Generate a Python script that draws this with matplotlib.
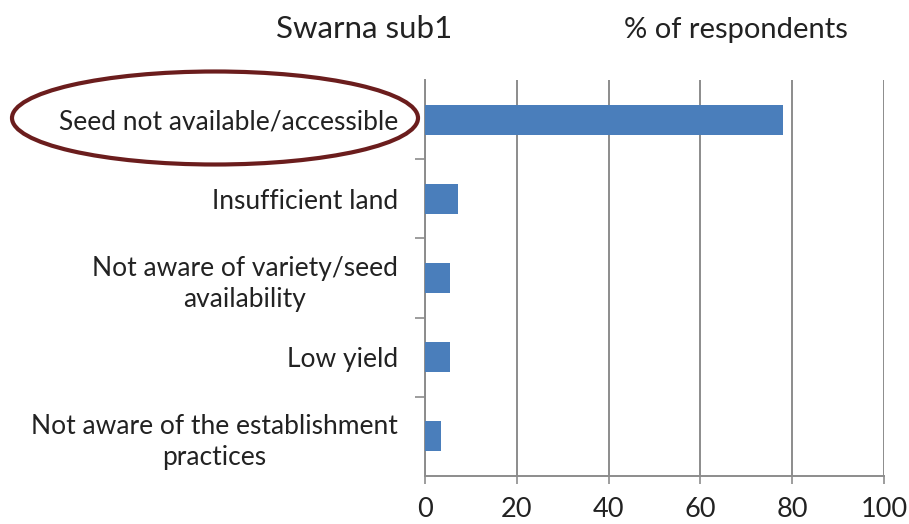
import matplotlib.pyplot as plt
from matplotlib.patches import Ellipse

plt.rcParams['font.family'] = ['Lato', 'DejaVu Sans']

# reasons for not adopting, top to bottom
reasons = ["Seed not available/accessible",
           "Insufficient land",
           "Not aware of variety/seed\navailability",
           "Low yield",
           "Not aware of the establishment\npractices"]
percent = [78, 7.3, 5.4, 5.4, 3.6]
xticks = [0, 20, 40, 60, 80, 100]

bar_color = "#4a7ebb"
grid_color = "#8c8c8c"
text_color = "#222222"

fig = plt.figure(figsize=(9.09, 5.24), dpi=100)
ax = fig.add_axes([0.4675, 0.0916, 0.505, 0.7557])

ypos = list(range(len(reasons)))[::-1]
ax.barh(ypos, percent, height=0.38, color=bar_color, zorder=3)

ax.set_xlim(0, 100)
ax.set_ylim(-0.5, len(reasons) - 0.5)
ax.set_xticks(xticks)
ax.set_xticklabels([str(t) for t in xticks], fontsize=19.5, color=text_color)
ax.xaxis.grid(True, color=grid_color, linewidth=1.4, zorder=0)

# category labels sit between the boundary ticks
ax.set_yticks(ypos)
ax.set_yticklabels(reasons, fontsize=19, color=text_color,
                   multialignment="center", linespacing=1.3)
ax.set_yticks([i - 0.5 for i in range(1, len(reasons))], minor=True)
ax.tick_params(axis="y", which="major", length=0, pad=19.5)
ax.tick_params(axis="y", which="minor", length=7, width=1.2, color=grid_color, direction="out")
ax.tick_params(axis="x", length=6, width=1.2, color=grid_color, pad=9)

for side in ["top", "right"]:
    ax.spines[side].set_visible(False)
for side in ["left", "bottom"]:
    ax.spines[side].set_color(grid_color)
    ax.spines[side].set_linewidth(1.4)

fig.text(364 / 909, 1 - 29 / 524, "Swarna sub1", fontsize=22.5,
         ha="center", va="center", color=text_color)
fig.text(736 / 909, 1 - 30 / 524, "% of respondents", fontsize=21,
         ha="center", va="center", color=text_color)

# highlight ring around the top reason
ring = Ellipse((215 / 909, 1 - 118 / 524), 406 / 909, 93 / 524,
               transform=fig.transFigure, fill=False, edgecolor="#6b1d1d", linewidth=3)
fig.add_artist(ring)

fig.savefig("out.png", dpi=100)
